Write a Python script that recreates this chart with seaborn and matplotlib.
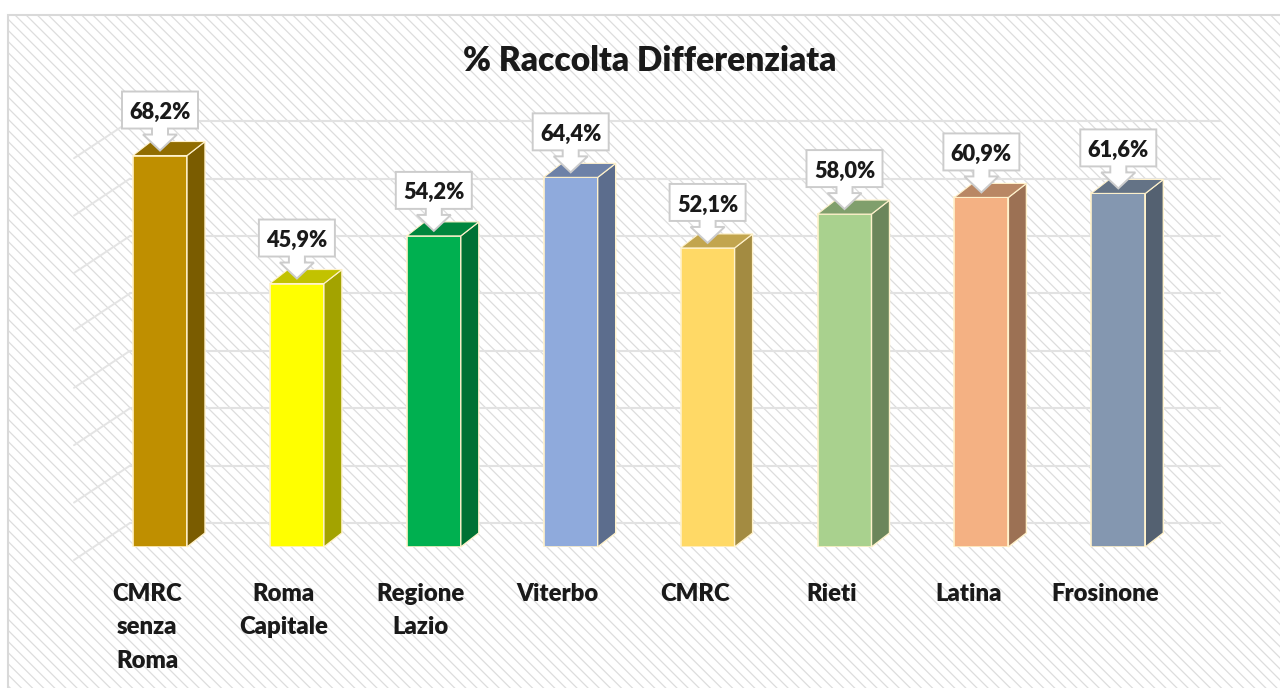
import matplotlib
matplotlib.use("Agg")
import matplotlib.pyplot as plt
import seaborn as sns
import pandas as pd
import numpy as np
from matplotlib.patches import Rectangle, Polygon
from matplotlib.transforms import Affine2D, ScaledTranslation
from matplotlib.colors import to_rgb

categories = ["CMRC\nsenza\nRoma", "Roma\nCapitale", "Regione\nLazio", "Viterbo", "CMRC", "Rieti", "Latina", "Frosinone"]
values = [68.2, 45.9, 54.2, 64.4, 52.1, 58.0, 60.9, 61.6]
value_labels = ["68,2%", "45,9%", "54,2%", "64,4%", "52,1%", "58,0%", "60,9%", "61,6%"]
bar_colors = ["#BF8F00", "#FFFF00", "#00B050", "#8FAADC", "#FFD966", "#A9D18E", "#F4B183", "#8497B0"]
grid_values = [0, 10, 20, 30, 40, 50, 60, 70]
title = "% Raccolta Differenziata"

W, H = 1280, 688
sns.set_theme(style="white")
plt.rcParams["font.family"] = ["Lato", "DejaVu Sans"]
plt.rcParams["hatch.linewidth"] = 0.9

fig = plt.figure(figsize=(W / 100, H / 100), dpi=100, facecolor="white")
fig.add_artist(Rectangle((8 / W, 0), 1 - 8 / W, 1 - 15 / H, transform=fig.transFigure,
                         facecolor="white", edgecolor="#dddddd", hatch="\\" * 3, lw=0, zorder=-2))
fig.add_artist(Rectangle((8 / W, -0.01), 1.1, 1.01 - 15 / H, transform=fig.transFigure,
                         facecolor="none", edgecolor="#d9d9d9", lw=1.5, zorder=-1))

px_x = 136.9
px_y = 5.74
left, right = 160 - px_x / 2, 1118.3 + px_x / 2
ax = fig.add_axes([left / W, 1 - 547 / H, (right - left) / W, 80 * px_y / H])
ax.patch.set_alpha(0)

df = pd.DataFrame({"cat": categories, "val": values})
sns.barplot(data=df, x="cat", y="val", hue="cat", order=categories, hue_order=categories,
            palette=bar_colors, legend=False, width=54 / px_x, ax=ax, zorder=3,
            edgecolor="#FFF2CC", linewidth=1.2, saturation=1)
ax.set_xlim(-0.5, 7.5)
ax.set_ylim(0, 80)
ax.set_xlabel("")
ax.set_ylabel("")
ax.set_yticks([])
sns.despine(ax=ax, left=True, bottom=True)

# back wall and side wall grid
wall_dy = 24 / px_y
wall_left = (130 - 160) / px_x
wall_right = (1220 - 160) / px_x
diag_dx, diag_dy = -56 / px_x, -37 / px_y
for g in grid_values:
    y = g + wall_dy
    ax.plot([wall_left, wall_right], [y, y], color="#e2e2e2", lw=1.5, clip_on=False, zorder=1)
    ax.plot([wall_left, wall_left + diag_dx], [y, y + diag_dy], color="#e4e4e4", lw=1.4, clip_on=False, zorder=1)

# bar depth
dx, dy = 18 / px_x, 14 / px_y
for patch, label in zip(ax.patches, value_labels):
    x0, w, h = patch.get_x(), patch.get_width(), patch.get_height()
    c = np.array(to_rgb(patch.get_facecolor()[:3]))
    side = [(x0 + w, 0), (x0 + w + dx, dy), (x0 + w + dx, h + dy), (x0 + w, h)]
    top = [(x0, h), (x0 + w, h), (x0 + w + dx, h + dy), (x0 + dx, h + dy)]
    ax.add_patch(Polygon(side, closed=True, facecolor=c * 0.64, edgecolor="#FFF2CC", lw=1.0, clip_on=False, zorder=3))
    ax.add_patch(Polygon(top, closed=True, facecolor=c * 0.76, edgecolor="#FFF2CC", lw=0.8, clip_on=False, zorder=3))

fig.canvas.draw()
# callouts, defined in pixels around the top of each bar
shape = [(-38, 64), (38, 64), (38, 27), (8, 27), (8, 21), (17, 21), (0, 5), (-17, 21), (-8, 21), (-8, 27), (-38, 27)]
for patch, label in zip(ax.patches, value_labels):
    cx = patch.get_x() + patch.get_width() / 2
    h = patch.get_height()
    px, py = ax.transData.transform((cx, h))
    tr = Affine2D().translate(px, py)
    fig.add_artist(Polygon(shape, closed=True, transform=tr, facecolor="white", edgecolor="#cccccc",
                           lw=1.4, zorder=5))
    fx, fy = (px) / W, (py + 43) / H
    fig.text(fx, fy, label, ha="center", va="center", fontsize=15.7, fontweight="heavy",
             color="#1a1a1a", zorder=6)

offset = ScaledTranslation(-13 / 100, 0, fig.dpi_scale_trans)
ax.tick_params(axis="x", length=0, pad=26)
for lab in ax.get_xticklabels():
    lab.set_fontsize(17.2)
    lab.set_fontweight("heavy")
    lab.set_color("#1a1a1a")
    lab.set_linespacing(1.63)
    lab.set_verticalalignment("top")
    lab.set_transform(lab.get_transform() + offset)

fig.text(650 / W, 1 - 61 / H, title, ha="center", va="center", fontsize=24.1, fontweight="heavy", color="#1a1a1a")

fig.savefig("out.png", dpi=100)
